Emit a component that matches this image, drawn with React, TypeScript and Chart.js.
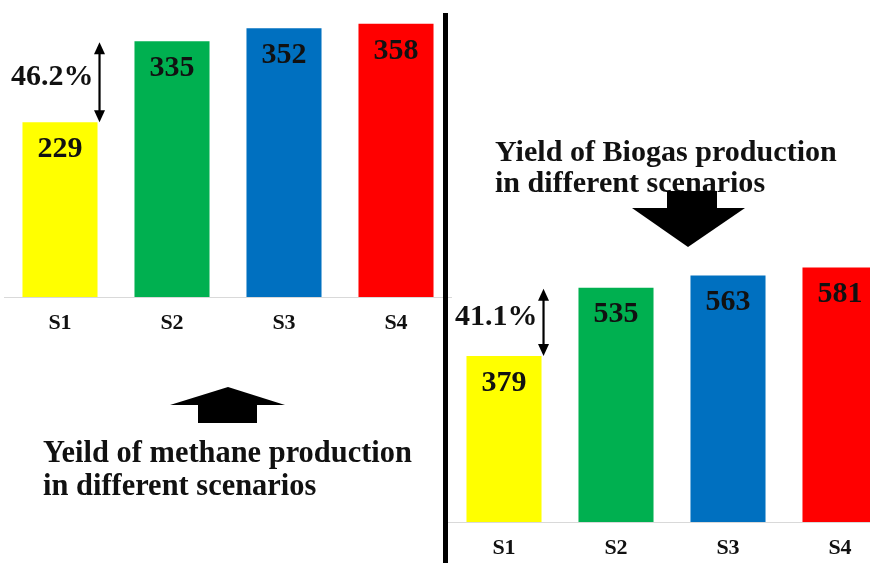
import React, { useEffect, useRef } from "react";
import { Chart, registerables } from "chart.js";
Chart.register(...registerables);

const categories = ["S1", "S2", "S3", "S4"];
const methaneValues = [229, 335, 352, 358];
const biogasValues = [379, 535, 563, 581];
const barColors = ["#ffff00", "#00b050", "#0070c0", "#ff0000"];
const methaneIncrease = "46.2%";
const biogasIncrease = "41.1%";
const methaneTitle = ["Yeild of methane production", "in different scenarios"];
const biogasTitle = ["Yield of Biogas production", "in different scenarios"];

const FONT = '"Liberation Serif", "Times New Roman", serif';

type Annot = {
  pct: string;
  title: string[];
  titleX: number;
  titleBase: number[];
  titleWidth: number;
  capHeight: number;
  arrowPts: { stem: [number, number, number, number]; head: [number, number, number]; tip: [number, number] };
};

function fitFont(ctx: CanvasRenderingContext2D, text: string, width: number) {
  ctx.font = `bold 100px ${FONT}`;
  const w = ctx.measureText(text).width;
  return (100 * width) / w;
}

function annotPlugin(a: Annot) {
  return {
    id: "annot",
    afterDatasetsDraw(chart: any) {
      const ctx: CanvasRenderingContext2D = chart.ctx;
      const meta = chart.getDatasetMeta(0);
      const bars = meta.data;
      const values = chart.data.datasets[0].data;
      ctx.save();
      ctx.fillStyle = "#111";
      ctx.textAlign = "center";
      ctx.textBaseline = "middle";
      ctx.font = `bold 30px ${FONT}`;
      bars.forEach((b: any, i: number) => {
        ctx.fillText(String(values[i]), b.x, b.y + 27);
      });
      // double arrow between S1 and S2 tops
      const b0 = bars[0];
      const b1 = bars[1];
      const ax = b0.x + b0.width / 2 + 2;
      const y1 = b1.y + 1;
      const y2 = b0.y;
      ctx.strokeStyle = "#000";
      ctx.fillStyle = "#000";
      ctx.lineWidth = 2.2;
      ctx.beginPath();
      ctx.moveTo(ax, y1 + 8);
      ctx.lineTo(ax, y2 - 8);
      ctx.stroke();
      ctx.beginPath();
      ctx.moveTo(ax, y1);
      ctx.lineTo(ax - 5.5, y1 + 12);
      ctx.lineTo(ax + 5.5, y1 + 12);
      ctx.closePath();
      ctx.fill();
      ctx.beginPath();
      ctx.moveTo(ax, y2);
      ctx.lineTo(ax - 5.5, y2 - 12);
      ctx.lineTo(ax + 5.5, y2 - 12);
      ctx.closePath();
      ctx.fill();
      ctx.textAlign = "right";
      ctx.font = `bold 30px ${FONT}`;
      ctx.fillStyle = "#111";
      ctx.fillText(a.pct, ax - 6, (y1 + y2) / 2 - 5);
      // title
      const fs = fitFont(ctx, a.title[0], a.titleWidth);
      const sy = a.capHeight / (0.655 * fs);
      ctx.font = `bold ${fs}px ${FONT}`;
      ctx.textAlign = "left";
      ctx.textBaseline = "alphabetic";
      a.title.forEach((t, i) => {
        ctx.save();
        ctx.translate(a.titleX, a.titleBase[i]);
        ctx.scale(1, sy);
        ctx.fillText(t, 0, 0);
        ctx.restore();
      });
      // block arrow
      const { stem, head, tip } = a.arrowPts;
      ctx.fillStyle = "#000";
      ctx.fillRect(stem[0], stem[1], stem[2] - stem[0], stem[3] - stem[1]);
      ctx.beginPath();
      ctx.moveTo(head[0], head[2]);
      ctx.lineTo(head[1], head[2]);
      ctx.lineTo(tip[0], tip[1]);
      ctx.closePath();
      ctx.fill();
      ctx.restore();
    },
  };
}

function makeConfig(values: number[], max: number, padding: any, axisH: number, annot: Annot): any {
  return {
    type: "bar",
    data: {
      labels: categories,
      datasets: [
        {
          data: values,
          backgroundColor: barColors,
          borderWidth: 0,
          barPercentage: 0.67,
          categoryPercentage: 1,
        },
      ],
    },
    options: {
      responsive: false,
      animation: false,
      devicePixelRatio: 1,
      layout: { padding },
      plugins: { legend: { display: false }, tooltip: { enabled: false } },
      scales: {
        x: {
          grid: { display: false, drawTicks: false },
          border: { display: true, color: "#d9d9d9", width: 1 },
          ticks: { color: "#111", padding: 13, font: { family: FONT, size: 22, weight: "bold" } },
          afterFit: (s: any) => {
            s.height = axisH;
          },
        },
        y: { display: false, min: 0, max },
      },
    },
    plugins: [annotPlugin(annot)],
  };
}

export default function App() {
  const leftRef = useRef<HTMLCanvasElement>(null);
  const rightRef = useRef<HTMLCanvasElement>(null);

  useEffect(() => {
    const left = new Chart(
      leftRef.current!,
      makeConfig(methaneValues, 380, { left: 4, right: 0, top: 7, bottom: 226 }, 40, {
        pct: methaneIncrease,
        title: methaneTitle,
        titleX: 43,
        titleBase: [462, 495],
        titleWidth: 369,
        capHeight: 20,
        arrowPts: { stem: [198, 404, 257, 423], head: [170, 285, 405], tip: [228, 387] },
      })
    );
    const right = new Chart(
      rightRef.current!,
      makeConfig(biogasValues, 621, { left: 0, right: 0, top: 250, bottom: 0 }, 41, {
        pct: biogasIncrease,
        title: biogasTitle,
        titleX: 47,
        titleBase: [161, 192],
        titleWidth: 342,
        capHeight: 19,
        arrowPts: { stem: [219, 191, 269, 209], head: [184, 297, 208], tip: [240, 247] },
      })
    );
    return () => {
      left.destroy();
      right.destroy();
    };
  }, []);

  return (
    <div
      style={{
        position: "fixed",
        left: 0,
        top: 0,
        width: 870,
        height: 563,
        overflow: "hidden",
        background: "#fff",
      }}
    >
      <canvas ref={rightRef} width={448} height={563} style={{ position: "absolute", left: 448, top: 0 }} />
      <canvas ref={leftRef} width={452} height={563} style={{ position: "absolute", left: 0, top: 0 }} />
      <div style={{ position: "absolute", left: 443, top: 13, width: 5, height: 550, background: "#000" }} />
    </div>
  );
}
